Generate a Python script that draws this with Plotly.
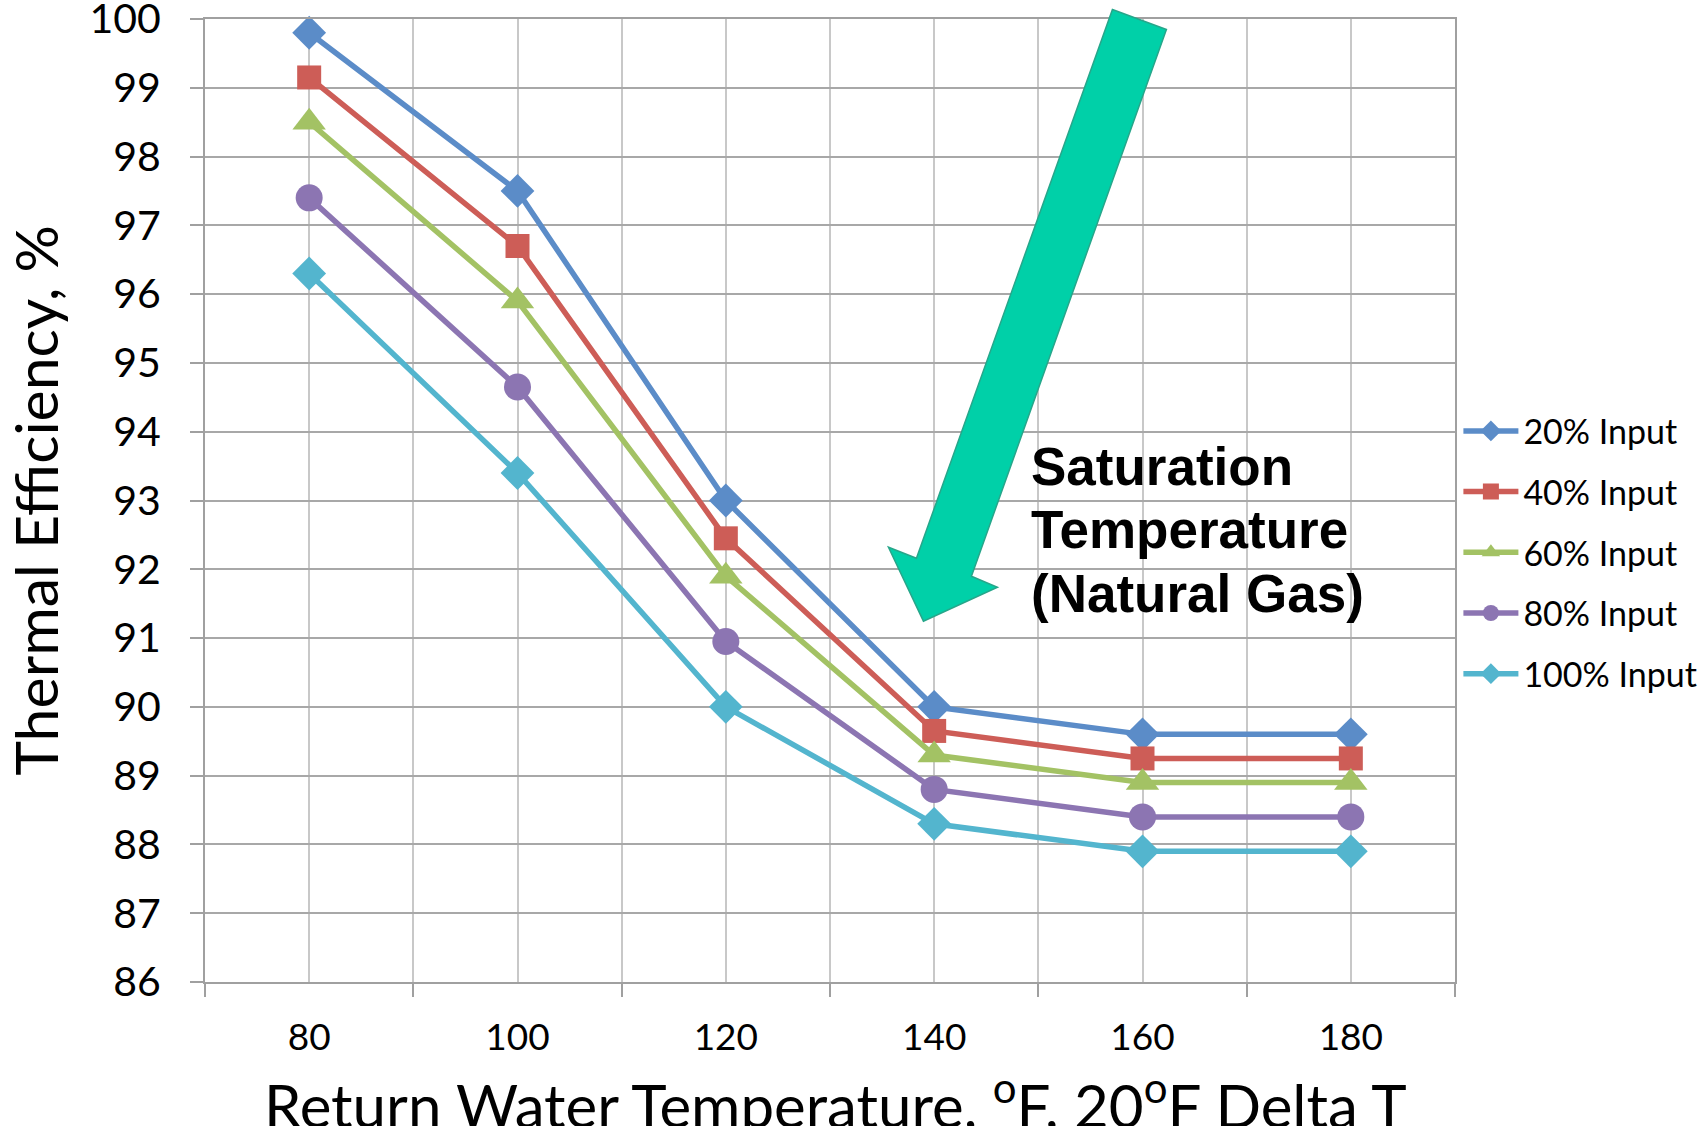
import plotly.graph_objects as go

# Return water temperature categories (°F) and thermal efficiency (%) per firing rate
temps = [80, 100, 120, 140, 160, 180]
eff_20 = [99.8, 97.5, 93.0, 90.0, 89.6, 89.6]
eff_40 = [99.15, 96.7, 92.45, 89.65, 89.25, 89.25]
eff_60 = [98.5, 95.9, 91.9, 89.3, 88.9, 88.9]
eff_80 = [97.4, 94.65, 90.95, 88.8, 88.4, 88.4]
eff_100 = [96.3, 93.4, 90.0, 88.3, 87.9, 87.9]

series_names = ["20% Input", "40% Input", "60% Input", "80% Input", "100% Input"]
series_values = [eff_20, eff_40, eff_60, eff_80, eff_100]
colors = ["#5B8CC8", "#CD5D57", "#A3C264", "#8C75B2", "#53B5CE"]
symbols = ["diamond", "square", "triangle-up", "circle", "diamond"]
marker_sizes = [26, 24, 29, 27, 26]

x_title = "Return Water Temperature, <sup>o</sup>F, 20<sup>o</sup>F Delta T"
y_title = "Thermal Efficiency, %"

W, H = 1706, 1126
L, R, T, B = 204.5, 1454.6, 18.5, 982.0  # plot area in pixels

FONT = "Lato"

fig = go.Figure()
for i, (name, vals) in enumerate(zip(series_names, series_values)):
    fig.add_trace(go.Scatter(
        x=temps, y=vals, name=name, mode="lines+markers",
        line=dict(color=colors[i], width=5.5),
        marker=dict(symbol=symbols[i], size=marker_sizes[i], color=colors[i],
                    line=dict(width=0)),
        legendgroup=name,
        cliponaxis=False,
    ))

def px_to_paper(px, py):
    return (px - L) / (R - L), (B - py) / (B - T)

# Teal arrow pointing at the saturation knee
arrow_px = [(1112, 9), (1166, 29), (971, 576), (997, 587), (923, 621),
            (888, 547), (916, 558)]
pts = [px_to_paper(x, y) for x, y in arrow_px]
path = "M " + " L ".join(f"{x:.5f},{y:.5f}" for x, y in pts) + " Z"
fig.add_shape(type="path", path=path, xref="paper", yref="paper",
              fillcolor="#00D0A8", line=dict(color="#27A68A", width=1.5),
              layer="above")

lines = ["Saturation", "Temperature", "(Natural Gas)"]
line_y = [466, 529, 593]
for txt, yy in zip(lines, line_y):
    ax, ay = px_to_paper(1029, yy)
    fig.add_annotation(x=ax, y=ay, xref="paper", yref="paper", text=f"<b>{txt}</b>",
                       showarrow=False, xanchor="left", yanchor="middle",
                       font=dict(family="Liberation Sans", size=53, color="black"))

# X axis title, set low so it runs to the bottom edge of the figure
tx, ty = px_to_paper(835, 1102)
fig.add_annotation(x=tx, y=ty, xref="paper", yref="paper", text=x_title,
                   showarrow=False, xanchor="center", yanchor="middle",
                   font=dict(family=FONT, size=60, color="black"))

fig.update_layout(
    width=W, height=H, autosize=False,
    margin=dict(l=L, r=W - R, t=T, b=H - B, pad=0, autoexpand=False),
    paper_bgcolor="white", plot_bgcolor="white",
    font=dict(family=FONT, color="black"),
    showlegend=True,
    legend=dict(x=(1458 - L) / (R - L), y=(B - 402) / (B - T), xanchor="left", yanchor="top",
                font=dict(family=FONT, size=34, color="black"),
                itemwidth=55, tracegroupgap=13.5, bgcolor="rgba(0,0,0,0)",
                itemsizing="trace"),
    xaxis=dict(
        range=[70, 190], tickvals=temps, ticktext=[str(t) for t in temps],
        ticks="", showgrid=True, gridcolor="#C8C8C8", gridwidth=1.5,
        tickfont=dict(family=FONT, size=37), ticklabelstandoff=22,
        showline=True, linecolor="#A0A0A0", linewidth=2, mirror=True,
        zeroline=False, automargin=False,
        minor=dict(tickvals=[70, 90, 110, 130, 150, 170, 190], ticks="outside",
                   ticklen=13, tickcolor="#A0A0A0", tickwidth=2,
                   showgrid=True, gridcolor="#C8C8C8", gridwidth=1.5),
    ),
    yaxis=dict(
        range=[86, 100], dtick=1, tick0=86,
        ticks="outside", ticklen=13, tickcolor="#A0A0A0", tickwidth=2,
        showgrid=True, gridcolor="#A8A8A8", gridwidth=2,
        tickfont=dict(family=FONT, size=41), ticklabelstandoff=21,
        ticklabeloverflow="allow",
        showline=True, linecolor="#A0A0A0", linewidth=2, mirror=True,
        zeroline=False, automargin=False,
        title=dict(text=y_title, font=dict(family=FONT, size=59), standoff=28),
    ),
)

fig.write_html("out.html")
